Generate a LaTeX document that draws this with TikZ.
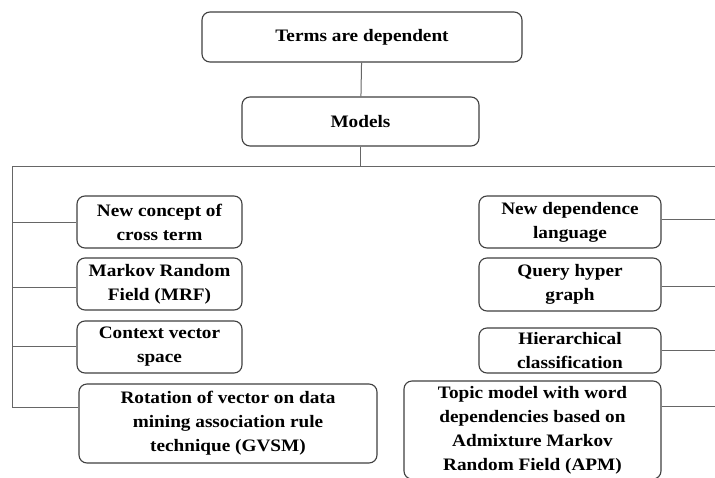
\documentclass[tikz,border=0pt]{standalone}
\usepackage{fontspec}
\setmainfont{Liberation Serif}[FakeStretch=1.1]
\begin{document}
\begin{tikzpicture}[x=1pt,y=-1pt,
  box/.style={draw=black!75, line width=1.1pt, rounded corners=8pt, align=center, inner sep=0pt,
    font=\fontsize{17.5}{24}\selectfont\bfseries},
  link/.style={draw=black!60, line width=1pt}]
\clip (0,0) rectangle (715,477);
\fill[white] (0,0) rectangle (715,477);
\node[box, minimum width=320pt, minimum height=50pt] (terms) at (362,37) {Terms are dependent};
\node[box, minimum width=237pt, minimum height=49pt] (models) at (360.5,121.5) {Models};
% left branch
\node[box, minimum width=165pt, minimum height=52pt] (l1) at (159.5,222) {New concept of\\cross term};
\node[box, minimum width=165pt, minimum height=52pt] (l2) at (159.5,284) {Markov Random\\Field (MRF)};
\node[box, minimum width=165pt, minimum height=52pt] (l3) at (159.5,347) {Context vector\\space};
\node[box, minimum width=298pt, minimum height=79pt] (l4) at (228,423.5) {Rotation of vector on data\\mining association rule\\technique (GVSM)};
% right branch
\node[box, minimum width=182pt, minimum height=52pt] (r1) at (570,222) {New dependence\\language};
\node[box, minimum width=182pt, minimum height=53pt] (r2) at (570,284.5) {Query hyper\\graph};
\node[box, minimum width=182pt, minimum height=45pt] (r3) at (570,350.5) {Hierarchical\\classification};
\node[box, minimum width=257pt, minimum height=98pt] (r4) at (532.5,430) {Topic model with word\\dependencies based on\\Admixture Markov\\Random Field (APM)};
% bus points
\coordinate (hub) at (360.5,166);
\coordinate (lt) at (12,166);
\coordinate (rt) at (720,166);
\coordinate (lb1) at (12,222);
\coordinate (lb2) at (12,287);
\coordinate (lb3) at (12,346);
\coordinate (lb4) at (12,407);
\coordinate (rb1) at (720,219);
\coordinate (rb2) at (720,286);
\coordinate (rb3) at (720,350);
\coordinate (rb4) at (720,406);
\path[link] (terms) -- (models);
\path[link] (models) -- (hub);
\path[link] (lt) -- (rt);
\path[link] (lt) -- (lb4);
\path[link] (lb1) -- (lb1 -| l1.west);
\path[link] (lb2) -- (lb2 -| l2.west);
\path[link] (lb3) -- (lb3 -| l3.west);
\path[link] (lb4) -- (lb4 -| l4.west);
\path[link] (rb1 -| r1.east) -- (rb1);
\path[link] (rb2 -| r2.east) -- (rb2);
\path[link] (rb3 -| r3.east) -- (rb3);
\path[link] (rb4 -| r4.east) -- (rb4);
\end{tikzpicture}
\end{document}
